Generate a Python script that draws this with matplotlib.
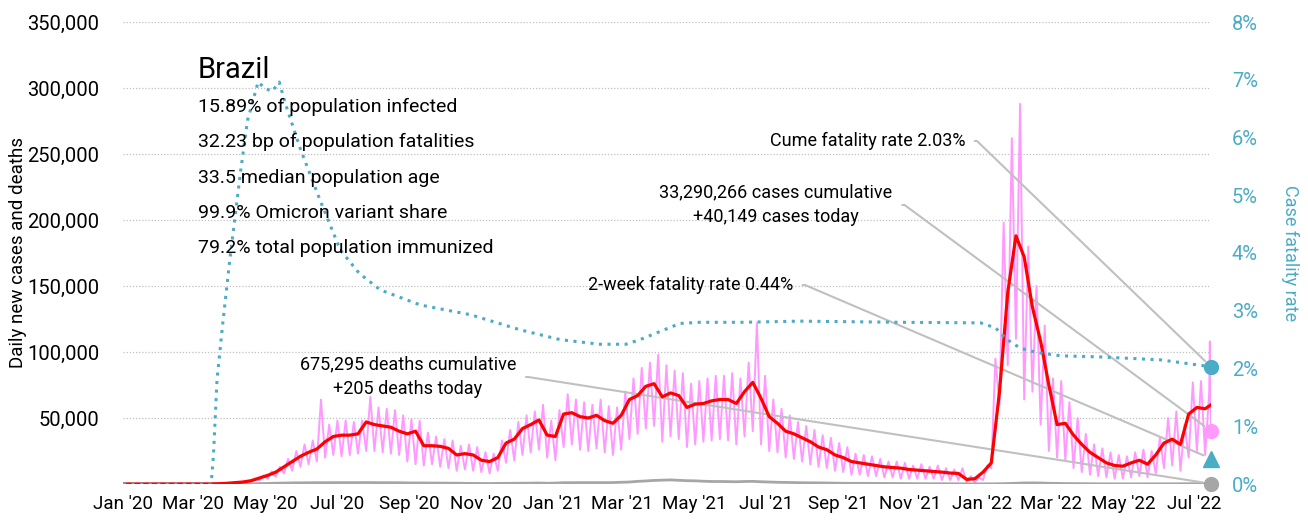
#%% Import library
import pandas as pd
import numpy as np
import matplotlib.pyplot as plt
import matplotlib.dates as mdates
from matplotlib.ticker import FuncFormatter

#%% chart style
plt.rcParams['font.family'] = ['Roboto', 'DejaVu Sans']
plt.rcParams['font.size'] = 13

#%% Data
start_date = '2020-01-01'
end_date = '2022-07-15'
week0 = '2020-03-15'   # first Sunday with cases, weekly points from here

# 7-day average of new cases, thousands, one value per week
cases_avg_k = [0.03, 0.2, 0.5, 1.0, 1.5, 2.5, 4.5, 6.5, 9, 13,
               17, 21, 24, 26.5, 32, 36, 37, 37, 38, 47,
               45, 44, 43, 40, 38, 40, 29, 29, 28.5, 27,
               22, 23, 22, 18, 17, 20, 31, 34, 42, 45,
               48.5, 37, 36, 53, 54, 51, 50, 52, 48, 46,
               52, 64, 67, 74, 76, 66, 69, 67, 58, 60.5,
               61, 63, 64, 64, 61, 70, 77, 65, 51, 46,
               40, 38, 35, 32, 28, 26, 22, 20, 17, 16,
               15, 14, 13, 12.5, 12, 11, 10.5, 10, 9.5, 9,
               8.3, 8, 3.5, 4, 9, 16, 70, 145, 188, 172,
               134, 108, 75, 45, 46, 37, 30, 24, 20, 16,
               14, 13.5, 16, 18, 15, 22, 31, 34, 30, 53,
               58, 57]
cases_avg_last_k = 60

# daily new cases, thousands: weekly low (Sunday) and mid-week high
cases_lo_k = [0.02, 0.1, 0.3, 0.6, 0.9, 1.5, 2.8, 4, 5.5, 8,
              10, 13, 15, 17, 20, 22, 21, 22, 23, 25,
              25, 24, 23, 22, 17, 15, 14, 15, 13, 12,
              10, 11, 10, 9, 8, 10, 16, 18, 22, 24,
              26, 20, 18, 28, 30, 26, 25, 27, 24, 22,
              26, 34, 38, 42, 44, 32, 36, 34, 28, 30,
              32, 33, 34, 33, 30, 36, 40, 30, 25, 24,
              20, 19, 17, 15, 13, 12, 10, 9, 7, 7,
              6, 6, 5, 5, 4, 4, 4, 4, 4, 3,
              3, 3, 1, 1, 3, 12, 60, 90, 110, 64,
              70, 45, 25, 20, 18, 12, 9, 7, 6, 5,
              4, 4, 5, 6, 5, 8, 12, 14, 10, 20,
              25, 22]
cases_hi_k = [0.05, 0.3, 0.8, 1.5, 2.2, 3.8, 6.5, 9.5, 13, 19,
              25, 30, 33, 64, 45, 48, 48, 47, 48, 66,
              58, 57, 56, 52, 49, 48, 39, 36, 34, 33,
              29, 30, 28, 24, 23, 33, 41, 47, 52, 55,
              60, 48, 56, 68, 64, 62, 60, 64, 59, 58,
              70, 80, 88, 92, 98, 90, 86, 84, 76, 78,
              80, 82, 82, 84, 80, 92, 122, 82, 64, 57,
              52, 47, 44, 41, 37, 35, 31, 28, 23, 22,
              21, 19, 17, 17, 16, 14, 15, 13, 14, 12,
              11, 12, 6, 5, 14, 95, 198, 262, 288, 180,
              150, 120, 80, 78, 62, 50, 38, 30, 27, 24,
              22, 21, 24, 26, 25, 35, 50, 55, 45, 77,
              78, 70]
cases_tail_dates = ['2022-07-14', '2022-07-15']
cases_tail_k = [108, 40.149]

# daily deaths, one value per week
deaths_week = [0, 5, 20, 50, 100, 150, 300, 400, 600, 700,
               850, 900, 950, 1000, 1000, 1050, 1050, 1050, 1050, 1100,
               1050, 1000, 1000, 950, 850, 800, 780, 720, 700, 650,
               600, 500, 450, 400, 350, 450, 500, 550, 600, 650,
               750, 550, 700, 1000, 1000, 1050, 1050, 1050, 1050, 1100,
               1300, 1500, 2000, 2300, 2700, 2900, 3100, 2800, 2500, 2400,
               2100, 1900, 1900, 1800, 1700, 1900, 2000, 1700, 1500, 1300,
               1200, 1100, 950, 900, 850, 750, 650, 550, 500, 480,
               500, 450, 400, 380, 350, 300, 250, 230, 220, 210,
               170, 150, 100, 100, 100, 120, 200, 350, 550, 800,
               850, 750, 550, 450, 350, 300, 250, 200, 150, 120,
               100, 100, 100, 100, 120, 130, 140, 150, 180, 200,
               230, 250]

# cumulative case fatality rate, %
cfr_dates = ['2020-01-01', '2020-03-16', '2020-03-18', '2020-03-21', '2020-03-26',
             '2020-04-01', '2020-04-10', '2020-04-16', '2020-04-25', '2020-05-01',
             '2020-05-07', '2020-05-13', '2020-05-18', '2020-05-31', '2020-06-17',
             '2020-07-04', '2020-07-20', '2020-08-07', '2020-09-10', '2020-10-23',
             '2020-12-04', '2021-01-07', '2021-02-10', '2021-03-04', '2021-03-16',
             '2021-04-19', '2021-05-06', '2021-06-10', '2021-07-31', '2021-10-24',
             '2021-12-31', '2022-01-13', '2022-01-17', '2022-01-26', '2022-02-03',
             '2022-02-16', '2022-03-09', '2022-04-12', '2022-06-02', '2022-07-15']
cfr_pct = [0, 0, 0.5, 1.8, 2.8,
           3.9, 5.4, 6.3, 6.96, 6.85,
           6.8, 6.96, 6.6, 5.8, 4.9,
           4.05, 3.65, 3.36, 3.1, 2.93,
           2.67, 2.5, 2.42, 2.42, 2.5,
           2.78, 2.8, 2.8, 2.82, 2.8,
           2.79, 2.7, 2.6, 2.45, 2.35,
           2.28, 2.22, 2.2, 2.15, 2.03]

cases_today = 40149
deaths_today = 205
cfr_cume = 2.03
cfr_2wk = 0.44

title = 'Brazil'
stats = ['15.89% of population infected',
         '32.23 bp of population fatalities',
         '33.5 median population age',
         '99.9% Omicron variant share',
         '79.2% total population immunized']

#%% Build series
weeks = pd.date_range(week0, periods=len(cases_avg_k), freq='7D')
avg_dates = [pd.Timestamp(start_date)] + list(weeks) + [pd.Timestamp(end_date)]
avg_vals = [0] + [v * 1000 for v in cases_avg_k] + [cases_avg_last_k * 1000]

lo_dates = pd.date_range(week0, periods=len(cases_lo_k), freq='7D')
hi_dates = pd.date_range(week0, periods=len(cases_hi_k), freq='7D') + pd.Timedelta(hours=84)
daily = pd.concat([pd.Series([0.0], index=[pd.Timestamp(start_date)]),
                   pd.Series(cases_lo_k, index=lo_dates),
                   pd.Series(cases_hi_k, index=hi_dates),
                   pd.Series(cases_tail_k, index=pd.to_datetime(cases_tail_dates))]).sort_index() * 1000

d_dates = [pd.Timestamp(start_date)] + list(pd.date_range(week0, periods=len(deaths_week), freq='7D')) \
    + [pd.Timestamp(end_date)]
d_vals = [0] + deaths_week + [deaths_today]

cfr_x = pd.to_datetime(cfr_dates)
end_ts = pd.Timestamp(end_date)

#%% Plot
fig = plt.figure(figsize=(13.08, 5.2), dpi=100)
ax = fig.add_axes([123 / 1308, 36 / 520, 1088 / 1308, 462 / 520])
ax2 = ax.twinx()

pink = '#ff99ff'
cyan = '#4bacc6'
grey = '#a6a6a6'
lgrey = '#c0c0c0'

ax.plot(daily.index, daily.values, color=pink, lw=1.4, zorder=2)
ax.plot(d_dates, d_vals, color=grey, lw=2, zorder=3)
ax.plot(avg_dates, avg_vals, color='#ff0000', lw=2.3, zorder=5)
ax2.plot(cfr_x, cfr_pct, color=cyan, lw=2.2, linestyle=(0, (1, 1.8)))

# end-of-series markers
ax.plot([end_ts], [cases_today], 'o', color=pink, ms=10, clip_on=False, zorder=6)
ax.plot([end_ts], [deaths_today], 'o', color=grey, ms=10, clip_on=False, zorder=6)
ax2.plot([end_ts], [cfr_cume], 'o', color=cyan, ms=10, clip_on=False)
ax2.plot([end_ts], [cfr_2wk], '^', color=cyan, ms=11, clip_on=False)

# axes setup
ax.set_xlim(pd.Timestamp(start_date), end_ts)
ax.set_ylim(0, 350000)
ax2.set_ylim(0, 8)
ax.set_yticks(np.arange(50000, 350001, 50000))
ax.yaxis.set_major_formatter(FuncFormatter(lambda v, p: f'{v:,.0f}'))
ax2.set_yticks(np.arange(0, 9, 1))
ax2.yaxis.set_major_formatter(FuncFormatter(lambda v, p: f'{v:.0f}%'))
ax.set_xticks(pd.date_range(start_date, '2022-07-01', freq='2MS'))
ax.xaxis.set_major_formatter(mdates.DateFormatter("%b '%y"))

ax.yaxis.grid(True, linestyle=(0, (1, 1.5)), color=lgrey, lw=0.9)
for a in (ax, ax2):
    for s in a.spines.values():
        s.set_visible(False)
ax.tick_params(axis='x', length=0, labelsize=13.5, colors='black', pad=8)
ax.tick_params(axis='y', length=0, labelsize=14.5, colors='black', pad=17)
ax2.tick_params(axis='y', length=0, labelsize=14.5, labelcolor=cyan, pad=15)

ax.set_ylabel('Daily new cases and deaths', fontsize=13.5)
ax.yaxis.set_label_coords(-0.088, 0.5)
ax2.set_ylabel('Case fatality rate', fontsize=13, color=cyan, rotation=270, va='bottom')
ax2.yaxis.set_label_coords(1.064, 0.5)

# title block
fig.text(198 / 1308, 1 - 70 / 520, title, fontsize=21, ha='left', va='center')
for k, line in enumerate(stats):
    fig.text(198 / 1308, 1 - (107 + 35.3 * k) / 520, line, fontsize=14, ha='left', va='center')

# callouts
xnum = mdates.date2num(end_ts)
arrow = dict(arrowstyle='-', color=lgrey, lw=1.5, shrinkA=5, shrinkB=6, relpos=(1, 0.5),
             connectionstyle='arc,angleA=0,armA=12,angleB=0,armB=0,rad=0')
ax.annotate('Cume fatality rate 2.03%', xy=(xnum, cfr_cume), xycoords=ax2.transData,
            xytext=(965, 520 - 141), textcoords='figure pixels', ha='right', va='center',
            fontsize=13, arrowprops=arrow, zorder=4)
ax.annotate('33,290,266 cases cumulative\n+40,149 cases today', xy=(xnum, cases_today),
            xytext=(776, 520 - 205), textcoords='figure pixels', ha='center', va='center',
            multialignment='center', fontsize=13, linespacing=1.5, arrowprops=arrow, zorder=4)
ax.annotate('2-week fatality rate 0.44%', xy=(xnum, cfr_2wk), xycoords=ax2.transData,
            xytext=(793, 520 - 285), textcoords='figure pixels', ha='right', va='center',
            fontsize=13, arrowprops=arrow, zorder=4)
ax.annotate('675,295 deaths cumulative\n+205 deaths today', xy=(xnum, deaths_today),
            xytext=(408, 520 - 377), textcoords='figure pixels', ha='center', va='center',
            multialignment='center', fontsize=13, linespacing=1.5, arrowprops=arrow, zorder=4)

fig.savefig('out.png', dpi=100)
